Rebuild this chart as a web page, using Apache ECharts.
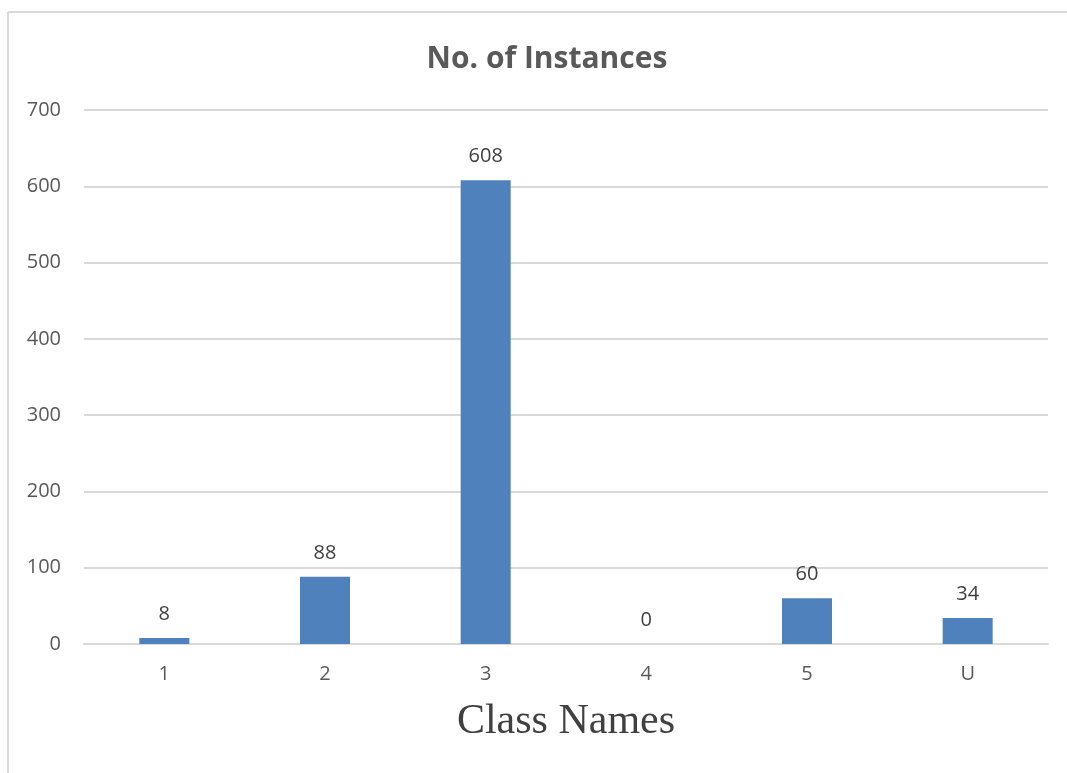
<!DOCTYPE html>
<html>
<head>
<meta charset="utf-8">
<script src="https://cdn.jsdelivr.net/npm/echarts@6/dist/echarts.min.js"></script>
<style>
  html, body { margin: 0; padding: 0; background: #fff; overflow: hidden; }
  #chart { width: 1067px; height: 773px; }
</style>
</head>
<body>
<div id="chart"></div>
<script>
const categories = ['1', '2', '3', '4', '5', 'U']
const instances = [8, 88, 608, 0, 60, 34]

const chart = echarts.init(document.getElementById('chart'))

const option = {
  animation: false,
  // chart area frame, only left and top edges fall inside the picture
  graphic: [
    { type: 'line', shape: { x1: 8, y1: 12, x2: 8, y2: 773 }, style: { stroke: '#d9d9d9', lineWidth: 2 } },
    { type: 'line', shape: { x1: 8, y1: 12, x2: 1067, y2: 12 }, style: { stroke: '#d9d9d9', lineWidth: 2 } }
  ],
  title: {
    text: 'No. of Instances',
    left: 542,
    textAlign: 'center',
    top: 39,
    textStyle: {
      color: '#595959',
      fontSize: 30,
      fontWeight: 'bold',
      fontFamily: 'Open Sans'
    }
  },
  grid: {
    left: 84,
    right: 19,
    top: 110,
    bottom: 129
  },
  xAxis: {
    type: 'category',
    data: categories,
    name: 'Class Names',
    nameLocation: 'middle',
    nameGap: 57,
    nameTextStyle: {
      color: '#404040',
      fontSize: 42,
      fontFamily: 'Liberation Serif'
    },
    axisTick: { show: false },
    axisLine: { show: true, lineStyle: { color: '#d9d9d9', width: 2 } },
    axisLabel: {
      color: '#595959',
      fontSize: 20,
      margin: 20,
      fontFamily: 'Open Sans'
    }
  },
  yAxis: {
    type: 'value',
    min: 0,
    max: 700,
    interval: 100,
    axisLine: { show: false },
    axisTick: { show: false },
    axisLabel: {
      color: '#595959',
      fontSize: 20,
      margin: 23,
      fontFamily: 'Open Sans'
    },
    splitLine: {
      lineStyle: { color: '#d9d9d9', width: 2 }
    }
  },
  series: [
    {
      type: 'bar',
      data: instances,
      barWidth: 50,
      itemStyle: { color: '#4f81bd' },
      label: {
        show: true,
        position: 'top',
        distance: 14,
        color: '#404040',
        fontSize: 20,
        fontFamily: 'Open Sans'
      }
    }
  ]
}

chart.setOption(option)
</script>
</body>
</html>
